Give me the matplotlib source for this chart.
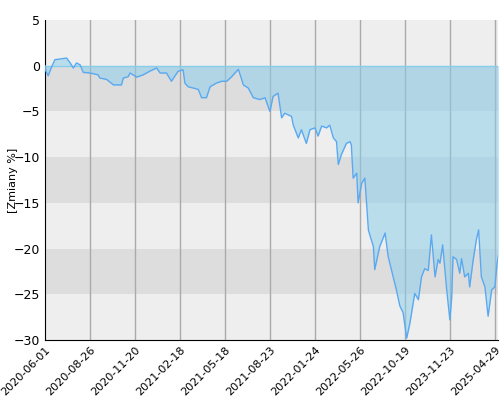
import matplotlib
matplotlib.use("Agg")
import matplotlib.pyplot as plt

tick_labels = ["2020-06-01","2020-08-26","2020-11-20","2021-02-18","2021-05-18","2021-08-23",
               "2022-01-24","2022-05-26","2022-10-19","2023-11-23","2025-04-29"]
x = [0.0,0.02,0.07,0.15,0.22,0.33,0.48,0.56,0.63,0.70,0.78,0.85,1.0,1.18,1.22,1.37,1.52,1.70,1.74,1.85,1.89,
     2.04,2.18,2.33,2.48,2.56,2.70,2.81,2.96,3.07,3.11,3.18,3.30,3.41,3.48,3.59,3.67,3.81,3.93,4.04,4.15,
     4.26,4.30,4.41,4.52,4.63,4.78,4.89,5.0,5.07,5.18,5.26,5.33,5.48,5.52,5.63,5.70,5.81,5.89,6.0,6.07,
     6.15,6.26,6.33,6.41,6.48,6.52,6.59,6.70,6.78,6.81,6.85,6.93,6.96,7.04,7.11,7.19,7.30,7.33,7.44,7.56,
     7.63,7.74,7.81,7.89,7.96,8.04,8.11,8.22,8.30,8.37,8.44,8.52,8.59,8.67,8.74,8.78,8.84,8.93,9.0,9.04,
     9.07,9.15,9.22,9.26,9.33,9.41,9.44,9.52,9.59,9.64,9.70,9.78,9.85,9.93,10.0,10.05,10.09]
values = [0.0,-0.6,-1.1,-0.1,0.66,0.73,0.84,0.3,-0.25,0.3,0.1,-0.73,-0.8,-1.0,-1.35,-1.5,-2.1,-2.1,-1.35,-1.2,-0.8,
          -1.25,-1.0,-0.6,-0.25,-0.8,-0.8,-1.7,-0.6,-0.45,-1.9,-2.3,-2.45,-2.6,-3.5,-3.5,-2.3,-1.9,-1.7,-1.7,-1.2,
          -0.6,-0.4,-2.1,-2.45,-3.5,-3.7,-3.5,-5.0,-3.36,-3.0,-5.7,-5.2,-5.55,-6.5,-7.9,-7.0,-8.5,-7.0,-6.8,-7.7,
          -6.6,-6.8,-6.5,-7.9,-8.3,-10.8,-9.7,-8.5,-8.3,-8.65,-12.3,-11.75,-15.0,-12.85,-12.3,-18.0,-19.8,-22.3,-19.8,-18.3,
          -20.9,-23.1,-24.5,-26.3,-27.0,-29.8,-28.2,-24.9,-25.6,-23.1,-22.2,-22.4,-18.5,-23.1,-21.2,-21.6,-19.6,-24.5,-27.8,-25.4,
          -20.9,-21.2,-22.7,-21.1,-23.1,-22.7,-24.2,-21.2,-19.0,-17.95,-23.1,-24.2,-27.4,-24.5,-24.2,-21.6,-20.5]

fig = plt.figure(figsize=(5, 4), dpi=100)
ax = fig.add_axes([0.09, 0.15, 0.906, 0.80])
xmax = 10.07
for i, lo in enumerate(range(5, -30, -5)):
    ax.axhspan(lo - 5, lo, color="#eeeeee" if i % 2 == 0 else "#dddddd", zorder=0, lw=0)
for k in range(1, len(tick_labels)):
    ax.axvline(k, color="#aaaaaa", lw=1, zorder=1)
ax.fill_between(x, values, 0, color="#87ceeb", alpha=0.5, lw=0, zorder=2)
ax.axhline(0, color="#87ceeb", lw=1, zorder=3)
ax.plot(x, values, color="#5aa9f0", lw=1, zorder=4)
ax.set_xlim(0, xmax)
ax.set_ylim(-30, 5)
ax.set_yticks(range(-30, 6, 5))
ax.set_xticks(range(len(tick_labels)))
ax.set_xticklabels(tick_labels, rotation=45, ha="right", rotation_mode="anchor", fontsize=8)
ax.tick_params(axis="y", labelsize=9, length=0)
ax.tick_params(axis="x", length=0)
ax.set_ylabel("[Zmiany %]", fontsize=8)
ax.yaxis.set_label_coords(-0.06, 0.5)
for s in ["top", "right"]:
    ax.spines[s].set_visible(False)
fig.savefig("out.png")
